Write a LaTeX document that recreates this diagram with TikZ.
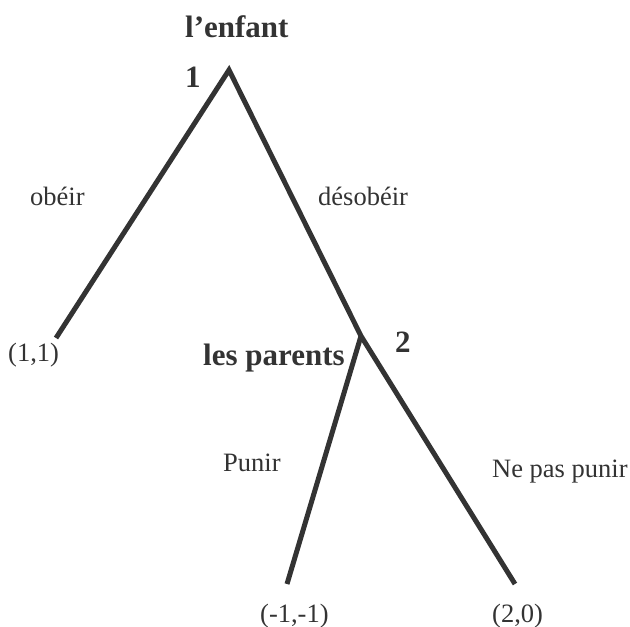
\documentclass[tikz,border=0pt]{standalone}
\usepackage{fontspec}
\setmainfont{Liberation Serif}
\definecolor{ink}{HTML}{333333}
\begin{document}
\begin{tikzpicture}[x=1pt,y=-1pt,
  branch/.style={draw=ink,line width=5pt,line join=miter},
  lbl/.style={anchor=base west,inner sep=0pt,text=ink,font=\fontsize{26.5}{30}\selectfont},
  blbl/.style={anchor=base west,inner sep=0pt,text=ink,font=\fontsize{31}{36}\selectfont\bfseries}]
\useasboundingbox (0,0) rectangle (630,627);
\coordinate (n1) at (229,70);
\coordinate (n2) at (361,336);
\coordinate (l1) at (56,338);
\coordinate (l2) at (287,584);
\coordinate (l3) at (515,584);
\draw[branch] (l1) -- (n1) -- (n2) -- (l3);
\draw[branch] (n2) -- (l2);
\node[blbl] (tenfant) at (185,37) {l’enfant};
\node[blbl] (t1) at (185,87) {1};
\node[blbl] (tparents) at (203,365) {les parents};
\node[blbl] (t2) at (395,352) {2};
\node[lbl] (tobeir) at (30,205) {obéir};
\node[lbl] (tdesobeir) at (318,205) {désobéir};
\node[lbl] (tpunir) at (223,471) {Punir};
\node[lbl] (tnepas) at (492,477) {Ne pas punir};
\node[lbl] (p1) at (8,361) {(1,1)};
\node[lbl] (p2) at (260,622) {(-1,-1)};
\node[lbl] (p3) at (492,622) {(2,0)};
\end{tikzpicture}
\end{document}
